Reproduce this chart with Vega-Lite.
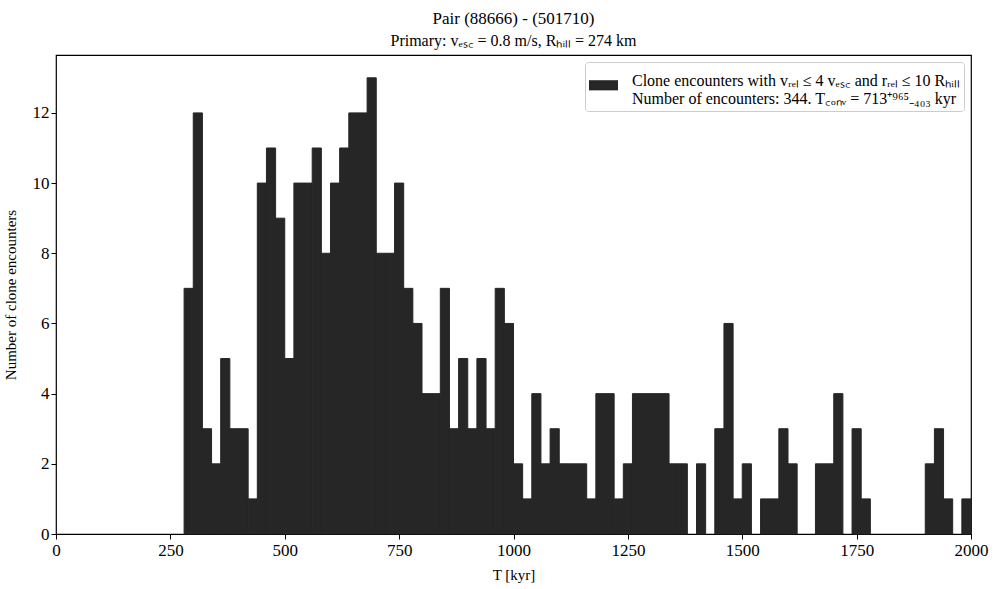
{
  "$schema": "https://vega.github.io/schema/vega-lite/v6.json",
  "width": 915,
  "height": 479,
  "autosize": {"type": "none"},
  "padding": {"left": 56, "top": 55, "right": 23, "bottom": 55},
  "background": "white",
  "title": {
    "text": "Pair (88666) - (501710)",
    "subtitle": "Primary: vₑₛ꜀ = 0.8 m/s, Rₕᵢₗₗ = 274 km",
    "anchor": "middle",
    "frame": "group",
    "font": "Liberation Serif",
    "fontSize": 17,
    "fontWeight": "normal",
    "color": "black",
    "subtitleFont": "Liberation Serif",
    "subtitleFontSize": 16,
    "subtitleColor": "black",
    "subtitlePadding": 5,
    "offset": 5
  },
  "data": {
    "values": [
      {"t0": 280, "t1": 300, "n": 7},
      {"t0": 300, "t1": 320, "n": 12},
      {"t0": 320, "t1": 340, "n": 3},
      {"t0": 340, "t1": 360, "n": 2},
      {"t0": 360, "t1": 380, "n": 5},
      {"t0": 380, "t1": 400, "n": 3},
      {"t0": 400, "t1": 420, "n": 3},
      {"t0": 420, "t1": 440, "n": 1},
      {"t0": 440, "t1": 460, "n": 10},
      {"t0": 460, "t1": 480, "n": 11},
      {"t0": 480, "t1": 500, "n": 9},
      {"t0": 500, "t1": 520, "n": 5},
      {"t0": 520, "t1": 540, "n": 10},
      {"t0": 540, "t1": 560, "n": 10},
      {"t0": 560, "t1": 580, "n": 11},
      {"t0": 580, "t1": 600, "n": 8},
      {"t0": 600, "t1": 620, "n": 10},
      {"t0": 620, "t1": 640, "n": 11},
      {"t0": 640, "t1": 660, "n": 12},
      {"t0": 660, "t1": 680, "n": 12},
      {"t0": 680, "t1": 700, "n": 13},
      {"t0": 700, "t1": 720, "n": 8},
      {"t0": 720, "t1": 740, "n": 8},
      {"t0": 740, "t1": 760, "n": 10},
      {"t0": 760, "t1": 780, "n": 7},
      {"t0": 780, "t1": 800, "n": 6},
      {"t0": 800, "t1": 820, "n": 4},
      {"t0": 820, "t1": 840, "n": 4},
      {"t0": 840, "t1": 860, "n": 7},
      {"t0": 860, "t1": 880, "n": 3},
      {"t0": 880, "t1": 900, "n": 5},
      {"t0": 900, "t1": 920, "n": 3},
      {"t0": 920, "t1": 940, "n": 5},
      {"t0": 940, "t1": 960, "n": 3},
      {"t0": 960, "t1": 980, "n": 7},
      {"t0": 980, "t1": 1000, "n": 6},
      {"t0": 1000, "t1": 1020, "n": 2},
      {"t0": 1020, "t1": 1040, "n": 1},
      {"t0": 1040, "t1": 1060, "n": 4},
      {"t0": 1060, "t1": 1080, "n": 2},
      {"t0": 1080, "t1": 1100, "n": 3},
      {"t0": 1100, "t1": 1120, "n": 2},
      {"t0": 1120, "t1": 1140, "n": 2},
      {"t0": 1140, "t1": 1160, "n": 2},
      {"t0": 1160, "t1": 1180, "n": 1},
      {"t0": 1180, "t1": 1200, "n": 4},
      {"t0": 1200, "t1": 1220, "n": 4},
      {"t0": 1220, "t1": 1240, "n": 1},
      {"t0": 1240, "t1": 1260, "n": 2},
      {"t0": 1260, "t1": 1280, "n": 4},
      {"t0": 1280, "t1": 1300, "n": 4},
      {"t0": 1300, "t1": 1320, "n": 4},
      {"t0": 1320, "t1": 1340, "n": 4},
      {"t0": 1340, "t1": 1360, "n": 2},
      {"t0": 1360, "t1": 1380, "n": 2},
      {"t0": 1380, "t1": 1400, "n": 0},
      {"t0": 1400, "t1": 1420, "n": 2},
      {"t0": 1420, "t1": 1440, "n": 0},
      {"t0": 1440, "t1": 1460, "n": 3},
      {"t0": 1460, "t1": 1480, "n": 6},
      {"t0": 1480, "t1": 1500, "n": 1},
      {"t0": 1500, "t1": 1520, "n": 2},
      {"t0": 1520, "t1": 1540, "n": 0},
      {"t0": 1540, "t1": 1560, "n": 1},
      {"t0": 1560, "t1": 1580, "n": 1},
      {"t0": 1580, "t1": 1600, "n": 3},
      {"t0": 1600, "t1": 1620, "n": 2},
      {"t0": 1620, "t1": 1640, "n": 0},
      {"t0": 1640, "t1": 1660, "n": 0},
      {"t0": 1660, "t1": 1680, "n": 2},
      {"t0": 1680, "t1": 1700, "n": 2},
      {"t0": 1700, "t1": 1720, "n": 4},
      {"t0": 1720, "t1": 1740, "n": 0},
      {"t0": 1740, "t1": 1760, "n": 3},
      {"t0": 1760, "t1": 1780, "n": 1},
      {"t0": 1780, "t1": 1800, "n": 0},
      {"t0": 1800, "t1": 1820, "n": 0},
      {"t0": 1820, "t1": 1840, "n": 0},
      {"t0": 1840, "t1": 1860, "n": 0},
      {"t0": 1860, "t1": 1880, "n": 0},
      {"t0": 1880, "t1": 1900, "n": 0},
      {"t0": 1900, "t1": 1920, "n": 2},
      {"t0": 1920, "t1": 1940, "n": 3},
      {"t0": 1940, "t1": 1960, "n": 1},
      {"t0": 1960, "t1": 1980, "n": 0},
      {"t0": 1980, "t1": 2000, "n": 1}
    ]
  },
  "transform": [{"filter": "datum.n > 0"}],
  "mark": {"type": "bar", "stroke": "#262626", "strokeWidth": 1, "opacity": 1, "orient": "vertical"},
  "encoding": {
    "x": {
      "field": "t0",
      "type": "quantitative",
      "scale": {"domain": [0, 2000], "nice": false, "zero": false, "padding": 0},
      "axis": {
        "title": "T [kyr]",
        "values": [0, 250, 500, 750, 1000, 1250, 1500, 1750, 2000],
        "format": "d",
        "labelFlush": false,
        "labelPadding": 3,
        "titlePadding": 9
      }
    },
    "x2": {"field": "t1"},
    "y": {
      "field": "n",
      "type": "quantitative",
      "scale": {"domain": [0, 13.65], "nice": false, "padding": 0},
      "axis": {
        "title": "Number of clone encounters",
        "values": [0, 2, 4, 6, 8, 10, 12],
        "titlePadding": 14
      }
    },
    "y2": {"datum": 0},
    "color": {
      "datum": "Clone encounters",
      "type": "nominal",
      "scale": {"range": ["#262626"]},
      "legend": {
        "title": null,
        "orient": "top-right",
        "offset": 7,
        "labelExpr": "['Clone encounters with vᵣₑₗ ≤ 4 vₑₛ꜀ and rᵣₑₗ ≤ 10 Rₕᵢₗₗ', 'Number of encounters: 344. T꜀ₒₙᵥ = 713⁺⁹⁶⁵₋₄₀₃ kyr']",
        "symbolType": "M-1,-0.02H1V0.68H-1Z",
        "symbolSize": 841,
        "symbolStrokeWidth": 0,
        "symbolOpacity": 1,
        "labelFont": "Liberation Serif",
        "labelFontSize": 16,
        "labelColor": "black",
        "labelLimit": 500,
        "labelOffset": 14,
        "padding": 4,
        "strokeColor": "#cccccc",
        "fillColor": "white",
        "cornerRadius": 3,
        "encode": {
          "labels": {"update": {"lineHeight": {"value": 18}}}
        }
      }
    }
  },
  "config": {
    "view": {"stroke": "black", "strokeWidth": 1.2},
    "axis": {
      "grid": false,
      "domain": false,
      "tickColor": "black",
      "tickSize": 5,
      "tickWidth": 1,
      "labelFont": "Liberation Serif",
      "labelFontSize": 17,
      "labelColor": "black",
      "titleFont": "Liberation Serif",
      "titleFontSize": 15,
      "titleFontWeight": "normal",
      "titleColor": "black"
    }
  }
}
